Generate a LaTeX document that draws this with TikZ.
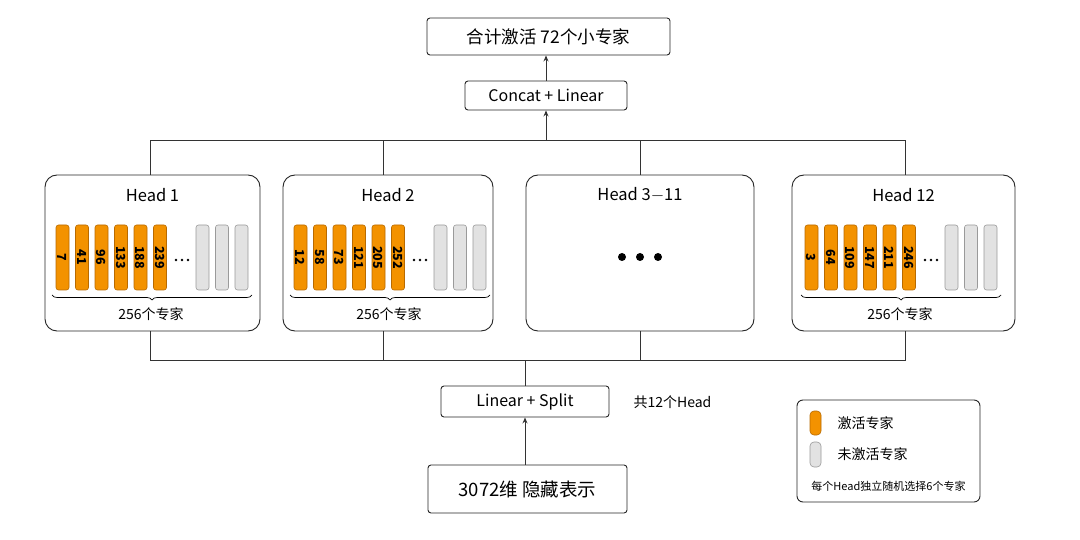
\documentclass[tikz,border=0pt]{standalone}
\usepackage{fontspec}
\setmainfont{Noto Sans CJK SC}
\usetikzlibrary{decorations.pathreplacing,arrows.meta}
\definecolor{og}{HTML}{F39200}
\definecolor{ogd}{HTML}{B86A00}
\definecolor{gr}{HTML}{E2E2E2}
\definecolor{grd}{HTML}{9A9A9A}
\begin{document}
\begin{tikzpicture}[x=1pt,y=-1pt,
  box/.style={draw=black!85,line width=0.9pt,rounded corners=3pt,fill=white},
  head/.style={draw=black!85,line width=0.9pt,rounded corners=12pt},
  ln/.style={draw=black!80,line width=0.9pt},
  arr/.style={ln,-{Stealth[length=6pt,width=5pt]}},
  on/.style={draw=ogd,fill=og,rounded corners=2.5pt,line width=0.6pt},
  off/.style={draw=grd,fill=gr,rounded corners=2.5pt,line width=0.6pt},
  num/.style={rotate=-90,font=\fontsize{12.5}{12.5}\selectfont\bfseries}]
\useasboundingbox (0,0) rectangle (1080,540);
\node[box,minimum width=243,minimum height=37,font=\fontsize{17.5}{17.5}\selectfont] (top) at (548.5,36.5) {合计激活 72个小专家};
\node[box,minimum width=162,minimum height=29,font=\fontsize{16}{16}\selectfont] (cat) at (546,95.5) {Concat + Linear};
\node[box,minimum width=168,minimum height=31,font=\fontsize{16}{16}\selectfont] (ls) at (525,401.5) {Linear + Split};
\node[box,minimum width=199,minimum height=48,font=\fontsize{18.5}{18.5}\selectfont] (hid) at (527.5,489) {3072维 隐藏表示};
\node[font=\fontsize{14}{14}\selectfont,anchor=west] (tot) at (630,402) {共12个Head};
% heads
\foreach \n/\xa/\xb/\t in {h1/45/260/Head 1,h2/283/493/Head 2,h3/526/754/Head 3$-$11,h4/792/1015/Head 12}{
  \draw[head] (\xa,175) rectangle (\xb,331);
  \node[font=\fontsize{16.5}{16.5}\selectfont] (\n) at ({(\xa+\xb)/2},195) {\t};
}
\coordinate (c1) at (150,175); \coordinate (c2) at (383,175);
\coordinate (c3) at (640,175); \coordinate (c4) at (905,175);
% bars
\foreach \x/\a/\b/\c/\d/\e/\f in {56/7/41/96/133/188/239,294/12/58/73/121/205/252,805/3/64/109/147/211/246}{
  \foreach \v [count=\i from 0] in {\a,\b,\c,\d,\e,\f}{
    \draw[on] ({\x+\i*19.5},225) rectangle ++(13,65);
    \node[num] at ({\x+\i*19.5+6.5},257.5) {\v};
  }
  \foreach \d in {120,126,132}{\fill ({\x+\d},260) circle (1.3);}
  \foreach \i in {0,1,2}{\draw[off] ({\x+140+\i*19.5},225) rectangle ++(13,65);}
  \draw[line width=0.7pt,decorate,decoration={brace,mirror,amplitude=5pt}] (\x-4,295) -- ({\x+196},295);
  \node[font=\fontsize{14}{14}\selectfont] at ({\x+95},314) {256个专家};
}
\foreach \x in {622,640,658}{\fill (\x,257) circle (4);}
% connectors
\draw[ln] (c1) -- (150,140) -- (905,140) -- (c4);
\draw[ln] (c2) -- (383,140); \draw[ln] (c3) -- (640,140);
\draw[arr] (546,140) -- (cat.south);
\draw[arr] (cat.north) -- (cat.north|-top.south);
\draw[ln] (150,331) -- (150,360) -- (905,360) -- (905,331);
\draw[ln] (383,331) -- (383,360); \draw[ln] (640,331) -- (640,360);
\draw[ln] (ls.north) -- (525,360);
\draw[arr] (hid.north-|ls.south) -- (ls.south);
% legend
\draw[box,rounded corners=6pt] (797,400) rectangle (980,502);
\draw[on,rounded corners=4pt] (810,411) rectangle ++(11,24);
\draw[off,rounded corners=4pt] (810,442) rectangle ++(11,25);
\node[anchor=west,font=\fontsize{14}{14}\selectfont] (l1) at (834,423) {激活专家};
\node[anchor=west,font=\fontsize{14}{14}\selectfont] (l2) at (834,454) {未激活专家};
\node[font=\fontsize{11}{11}\selectfont] (l3) at (888.5,486) {每个Head独立随机选择6个专家};
\end{tikzpicture}
\end{document}
